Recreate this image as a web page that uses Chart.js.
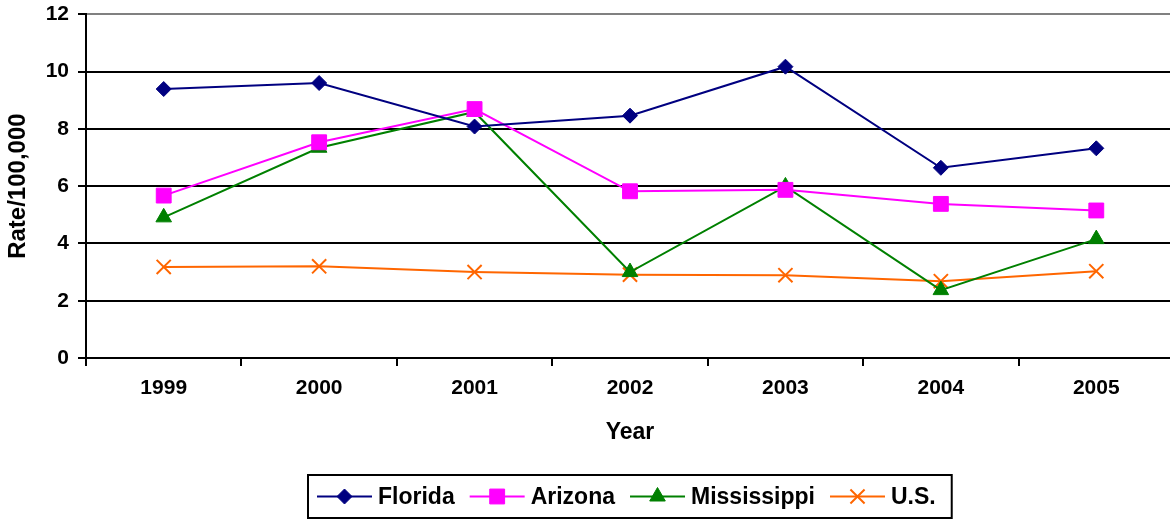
<!DOCTYPE html>
<html>
<head>
<meta charset="utf-8">
<script src="https://cdn.jsdelivr.net/npm/chart.js@4.4.1/dist/chart.umd.min.js"></script>
<style>
  html, body { margin: 0; padding: 0; background: #fff; overflow: hidden; }
  #wrap { width: 1170px; height: 520px; overflow: hidden; }
</style>
</head>
<body>
<div id="wrap"><canvas id="c" width="1186" height="520"></canvas></div>
<script>
const years = ['1999', '2000', '2001', '2002', '2003', '2004', '2005'];
const florida = [9.39, 9.6, 8.08, 8.46, 10.17, 6.64, 7.32];
const arizona = [5.67, 7.53, 8.69, 5.82, 5.87, 5.38, 5.15];
const mississippi = [4.91, 7.34, 8.59, 3.0, 5.99, 2.37, 4.15];
const us = [3.18, 3.2, 3.0, 2.91, 2.89, 2.68, 3.03];
const seriesNames = ['Florida', 'Arizona', 'Mississippi', 'U.S.'];
const yTicks = [0, 2, 4, 6, 8, 10, 12];
const yTitle = 'Rate/100,000';
const xTitle = 'Year';

const FONT = 'Arial, "Liberation Sans", sans-serif';

function ds(label, data, color, style, radius) {
  const cross = style === 'crossRot';
  return {
    label, data,
    borderColor: color,
    backgroundColor: color,
    borderWidth: 2,
    tension: 0,
    pointStyle: style,
    pointRadius: radius,
    pointHoverRadius: radius,
    pointBackgroundColor: color,
    pointBorderColor: color,
    pointBorderWidth: cross ? 2 : 1
  };
}

const legendPlugin = {
  id: 'boxLegend',
  afterDraw(chart) {
    const ctx = chart.ctx;
    const area = chart.chartArea;
    ctx.save();
    ctx.font = 'bold 23px ' + FONT;
    const lineLen = 55, gapAfterLine = 6, gapItem = 15, padL = 9, padR = 16;
    const widths = chart.data.datasets.map(d => ctx.measureText(d.label).width);
    let total = padL + padR;
    widths.forEach((w, i) => { total += lineLen + gapAfterLine + w + (i < widths.length - 1 ? gapItem : 0); });
    const cx = (area.left + area.right) / 2;
    const left = Math.round(cx - total / 2);
    const top = 475, h = 43;
    ctx.lineWidth = 2;
    ctx.strokeStyle = '#000';
    ctx.strokeRect(left, top, total, h);
    const yMid = top + h / 2;
    let x = left + padL;
    chart.data.datasets.forEach((d, i) => {
      ctx.strokeStyle = d.borderColor;
      ctx.lineWidth = 2;
      ctx.beginPath();
      ctx.moveTo(x, yMid);
      ctx.lineTo(x + lineLen, yMid);
      ctx.stroke();
      ctx.fillStyle = d.pointBackgroundColor;
      ctx.strokeStyle = d.pointBorderColor;
      ctx.lineWidth = d.pointBorderWidth;
      Chart.helpers.drawPoint(ctx, {pointStyle: d.pointStyle, radius: d.pointRadius, rotation: 0, borderWidth: d.pointBorderWidth}, x + lineLen / 2, yMid);
      x += lineLen + gapAfterLine;
      ctx.fillStyle = '#000';
      ctx.textBaseline = 'middle';
      ctx.textAlign = 'left';
      ctx.fillText(d.label, x, yMid + 1);
      x += widths[i] + gapItem;
    });
    ctx.restore();
  }
};

new Chart(document.getElementById('c'), {
  type: 'line',
  data: {
    labels: years,
    datasets: [
      ds(seriesNames[0], florida, '#000080', 'rectRot', 7.5),
      ds(seriesNames[1], arizona, '#FF00FF', 'rect', 10.5),
      ds(seriesNames[2], mississippi, '#008000', 'triangle', 9),
      ds(seriesNames[3], us, '#FF6600', 'crossRot', 10)
    ]
  },
  options: {
    responsive: false,
    animation: false,
    devicePixelRatio: 1,
    layout: { padding: { top: 13, left: 0, right: 2, bottom: 74 } },
    plugins: {
      legend: { display: false },
      tooltip: { enabled: false },
      title: { display: false }
    },
    scales: {
      x: {
        type: 'category',
        offset: true,
        grid: {
          offset: true,
          drawOnChartArea: false,
          drawTicks: true,
          tickLength: 8,
          color: '#000',
          lineWidth: 2
        },
        border: { display: true, color: '#000', width: 2 },
        ticks: {
          color: '#000',
          font: { family: FONT, size: 21, weight: 'bold' },
          padding: 10,
          maxRotation: 0,
          autoSkip: false
        },
        title: {
          display: true,
          text: xTitle,
          color: '#000',
          font: { family: FONT, size: 23, weight: 'bold' },
          padding: { top: 0, bottom: 0 }
        },
        afterFit(scale) { scale.height = 88; }
      },
      y: {
        min: 0,
        max: 12,
        afterBuildTicks(scale) { scale.ticks = yTicks.map(v => ({ value: v })); },
        grid: {
          drawTicks: true,
          tickLength: 8,
          tickColor: '#000',
          lineWidth: 2,
          color: (c) => (c.tick && c.tick.value === 12) ? '#808080' : '#000'
        },
        border: { display: true, color: '#000', width: 2 },
        ticks: {
          color: '#000',
          font: { family: FONT, size: 21, weight: 'bold', lineHeight: 0.5 },
          padding: 9
        },
        title: {
          display: true,
          text: yTitle,
          color: '#000',
          font: { family: FONT, size: 24, weight: 'bold' },
          padding: { top: 4, bottom: 0 }
        },
        afterFit(scale) { scale.width = 86; }
      }
    }
  },
  plugins: [legendPlugin]
});
</script>
</body>
</html>
